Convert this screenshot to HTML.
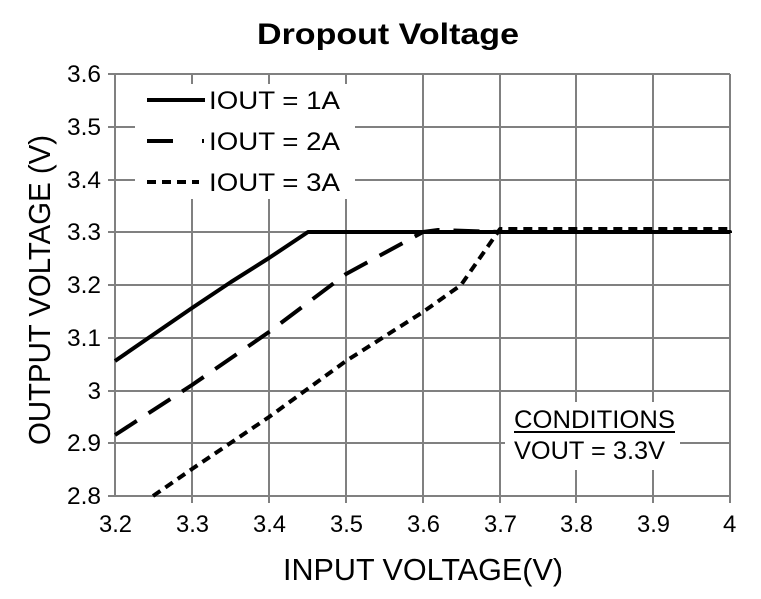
<!DOCTYPE html>
<html><head><style>body{margin:0;background:#fff}svg{display:block}</style></head><body>
<svg width="761" height="599" xmlns="http://www.w3.org/2000/svg" font-family="Liberation Sans, Arial, sans-serif">
<rect width="761" height="599" fill="#fff"/>
<g stroke="#808080" stroke-width="2">
<line x1="115" y1="74" x2="115" y2="496"/>
<line x1="192" y1="74" x2="192" y2="503"/>
<line x1="269" y1="74" x2="269" y2="503"/>
<line x1="346" y1="74" x2="346" y2="503"/>
<line x1="423" y1="74" x2="423" y2="503"/>
<line x1="500" y1="74" x2="500" y2="503"/>
<line x1="576" y1="74" x2="576" y2="503"/>
<line x1="653" y1="74" x2="653" y2="503"/>
<line x1="730" y1="74" x2="730" y2="503"/>
<line x1="108" y1="74" x2="730" y2="74"/>
<line x1="108" y1="127" x2="730" y2="127"/>
<line x1="108" y1="180" x2="730" y2="180"/>
<line x1="108" y1="232" x2="730" y2="232"/>
<line x1="108" y1="285" x2="730" y2="285"/>
<line x1="108" y1="338" x2="730" y2="338"/>
<line x1="108" y1="391" x2="730" y2="391"/>
<line x1="108" y1="443" x2="730" y2="443"/>
<line x1="108" y1="496" x2="730" y2="496"/>
</g>
<rect x="135" y="84" width="220" height="115" fill="#fff"/>
<rect x="505" y="402" width="175" height="68" fill="#fff"/>
<g fill="none" stroke="#000" stroke-width="4" stroke-linejoin="round">
<polyline points="115,361 192,308 231,282 269,258 308,232 730,232 730,233"/>
<polyline stroke-dasharray="26,14" points="115,435 192,385 269,332 346,274 423,232 438,230 500,232 730,232"/>
<polyline stroke-dasharray="9,6" points="153,496 192,469 269,417 346,361 423,312 461,285 500,229 730,229"/>
<line x1="147" y1="100" x2="205" y2="100"/>
<line x1="147" y1="141" x2="187" y2="141" stroke-dasharray="26,14"/>
<line x1="202" y1="141" x2="204" y2="141"/>
<line x1="147" y1="182" x2="199" y2="182" stroke-dasharray="9,6"/>
</g>
<g font-size="25" fill="#000" lengthAdjust="spacingAndGlyphs">
<text x="209" y="109" textLength="131" lengthAdjust="spacingAndGlyphs">IOUT = 1A</text>
<text x="209" y="150" textLength="131" lengthAdjust="spacingAndGlyphs">IOUT = 2A</text>
<text x="209" y="191" textLength="131" lengthAdjust="spacingAndGlyphs">IOUT = 3A</text>
<text x="514" y="428" textLength="161" lengthAdjust="spacingAndGlyphs">CONDITIONS</text>
<text x="514" y="459" textLength="151" lengthAdjust="spacingAndGlyphs">VOUT = 3.3V</text>
</g>
<line x1="514" y1="432" x2="675" y2="432" stroke="#000" stroke-width="2"/>
<g font-size="24" text-anchor="end">
<text x="101" y="82" textLength="34" lengthAdjust="spacingAndGlyphs">3.6</text><text x="101" y="135" textLength="34" lengthAdjust="spacingAndGlyphs">3.5</text><text x="101" y="188" textLength="34" lengthAdjust="spacingAndGlyphs">3.4</text>
<text x="101" y="240" textLength="34" lengthAdjust="spacingAndGlyphs">3.3</text><text x="101" y="293" textLength="34" lengthAdjust="spacingAndGlyphs">3.2</text><text x="101" y="346" textLength="34" lengthAdjust="spacingAndGlyphs">3.1</text>
<text x="101" y="399">3</text><text x="101" y="451" textLength="34" lengthAdjust="spacingAndGlyphs">2.9</text><text x="101" y="504" textLength="34" lengthAdjust="spacingAndGlyphs">2.8</text>
</g>
<g font-size="24">
<text x="99" y="532" textLength="33" lengthAdjust="spacingAndGlyphs">3.2</text><text x="176" y="532" textLength="33" lengthAdjust="spacingAndGlyphs">3.3</text><text x="253" y="532" textLength="33" lengthAdjust="spacingAndGlyphs">3.4</text>
<text x="330" y="532" textLength="33" lengthAdjust="spacingAndGlyphs">3.5</text><text x="407" y="532" textLength="33" lengthAdjust="spacingAndGlyphs">3.6</text><text x="484" y="532" textLength="33" lengthAdjust="spacingAndGlyphs">3.7</text>
<text x="560" y="532" textLength="33" lengthAdjust="spacingAndGlyphs">3.8</text><text x="637" y="532" textLength="33" lengthAdjust="spacingAndGlyphs">3.9</text><text x="723" y="532">4</text>
</g>
<text x="257" y="44" font-size="30" font-weight="bold" textLength="262" lengthAdjust="spacingAndGlyphs">Dropout Voltage</text>
<text x="283" y="580" font-size="31" textLength="280" lengthAdjust="spacingAndGlyphs">INPUT VOLTAGE(V)</text>
<text transform="translate(50,445) rotate(-90)" font-size="31" textLength="310" lengthAdjust="spacingAndGlyphs">OUTPUT VOLTAGE (V)</text>
</svg>
</body></html>
